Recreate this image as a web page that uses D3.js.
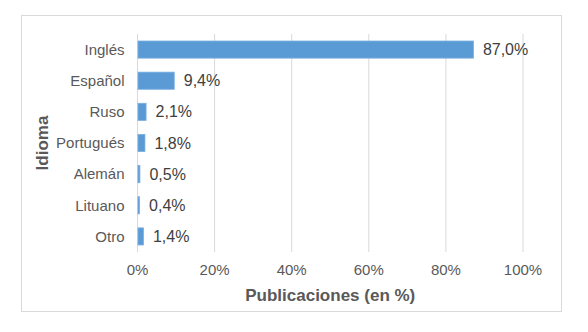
<!DOCTYPE html>
<html>
<head>
<meta charset="utf-8">
<script src="https://cdn.jsdelivr.net/npm/d3@7"></script>
<style>
  body { margin: 0; background: #fff; }
  text { font-family: "Liberation Sans", Arial, sans-serif; }
</style>
</head>
<body>
<div id="chart"></div>
<script>
// data
const idiomas = ["Inglés", "Español", "Ruso", "Portugués", "Alemán", "Lituano", "Otro"];
const valores = [87.0, 9.4, 2.1, 1.8, 0.5, 0.4, 1.4];
const ticks = [0, 20, 40, 60, 80, 100];

const W = 588, H = 332;
const margin = {top: 34, right: 65, bottom: 80, left: 137.5};

const svg = d3.select("#chart").append("svg")
    .attr("width", W)
    .attr("height", H);

// outer frame
svg.append("rect")
    .attr("x", 21.5).attr("y", 15.5)
    .attr("width", 540).attr("height", 296)
    .attr("fill", "#fff")
    .attr("stroke", "#d9d9d9");

const x = d3.scaleLinear()
    .domain([0, 100])
    .range([margin.left, W - margin.right]);

const y = d3.scaleBand()
    .domain(idiomas)
    .range([margin.top, H - margin.bottom])
    .paddingInner(0.45)
    .paddingOuter(0.225);

// gridlines
svg.append("g")
    .selectAll("line")
    .data(ticks)
    .join("line")
    .attr("x1", d => x(d)).attr("x2", d => x(d))
    .attr("y1", margin.top).attr("y2", H - margin.bottom)
    .attr("stroke", "#d9d9d9")
    .attr("stroke-width", 1);

// x tick labels
svg.append("g")
    .selectAll("text")
    .data(ticks)
    .join("text")
    .attr("x", d => x(d))
    .attr("y", 275)
    .attr("text-anchor", "middle")
    .attr("font-size", 15)
    .attr("fill", "#595959")
    .text(d => d + "%");

// category labels
svg.append("g")
    .selectAll("text")
    .data(idiomas)
    .join("text")
    .attr("x", margin.left - 13)
    .attr("y", d => y(d) + y.bandwidth() / 2)
    .attr("dy", "0.35em")
    .attr("text-anchor", "end")
    .attr("font-size", 15)
    .attr("fill", "#595959")
    .text(d => d);

// bars
svg.append("g")
    .selectAll("rect")
    .data(valores)
    .join("rect")
    .attr("x", x(0) + 0.5)
    .attr("y", (d, i) => y(idiomas[i]))
    .attr("width", d => Math.max(x(d) - x(0), 1))
    .attr("height", y.bandwidth())
    .attr("fill", "#5b9bd5")
    .attr("stroke", "#7aaee0")
    .attr("stroke-width", 0.8);

// value labels
svg.append("g")
    .selectAll("text")
    .data(valores)
    .join("text")
    .attr("x", d => x(d) + 10)
    .attr("y", (d, i) => y(idiomas[i]) + y.bandwidth() / 2)
    .attr("dy", "0.35em")
    .attr("font-size", 16)
    .attr("fill", "#404040")
    .text(d => d.toFixed(1).replace(".", ",") + "%");

// axis titles
svg.append("text")
    .attr("x", x(50))
    .attr("y", 301)
    .attr("text-anchor", "middle")
    .attr("font-size", 17)
    .attr("font-weight", "bold")
    .attr("fill", "#595959")
    .text("Publicaciones (en %)");

svg.append("text")
    .attr("transform", `translate(48,${(margin.top + H - margin.bottom) / 2}) rotate(-90)`)
    .attr("text-anchor", "middle")
    .attr("font-size", 17)
    .attr("font-weight", "bold")
    .attr("fill", "#595959")
    .text("Idioma");
</script>
</body>
</html>
